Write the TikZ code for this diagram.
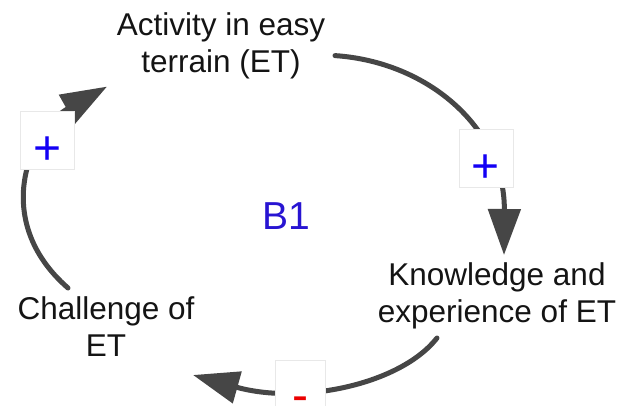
\documentclass[tikz,border=0pt]{standalone}
\usepackage{fontspec}
\setmainfont{Liberation Sans}
\usetikzlibrary{arrows.meta}
\definecolor{linkgray}{RGB}{70,70,70}
\definecolor{loopblue}{RGB}{40,20,210}
\definecolor{signblue}{RGB}{20,0,245}
\definecolor{signred}{RGB}{235,0,0}
\definecolor{boxedge}{RGB}{232,232,232}
\tikzset{
  varnode/.style={align=center, inner sep=0pt, text=black!92,
    font=\fontsize{31.5bp}{37bp}\selectfont},
  looplabel/.style={inner sep=0pt, text=loopblue,
    font=\fontsize{39bp}{44bp}\selectfont},
  link/.style={draw=linkgray, line width=5bp, line cap=round,
    -{Triangle[length=46bp,width=32bp]}, fill=none},
  signbox/.style={fill=white, draw=boxedge, line width=0.6bp,
    minimum width=54bp, minimum height=58bp, inner sep=0pt,
    text height=48bp, text depth=0bp, text=signblue,
    font=\fontsize{48bp}{50bp}\selectfont},
  minusbox/.style={signbox, minimum width=50bp, text height=44bp, text=signred}
}
\begin{document}
\begin{tikzpicture}[x=1bp,y=-1bp]
\useasboundingbox (0,0) rectangle (622,405);
\clip (0,0) rectangle (622,405);
\fill[white] (0,0) rectangle (622,405);

\node[varnode] (act) at (221,45.6) {Activity in easy\\terrain (ET)};
\node[varnode] (know) at (497,296) {Knowledge and\\experience of ET};
\node[varnode] (chal) at (106,327) {Challenge of\\ET};
\node[looplabel] (b1) at (286.5,216) {B1};

\draw[link] ([shift={(114,10)}]act.center)
  .. controls (430,62) and (505,130) ..
  node[pos=0.7, signbox, fill=white] (s1) {+}
  ([shift={(7,-41)}]know.center);

\draw[link] ([shift={(-60,42)}]know.center)
  .. controls (400,385) and (300,405) ..
  node[pos=0.65, minusbox, fill=white] (s2) {-}
  ([shift={(87,48)}]chal.center);

\draw[link] ([shift={(-38,-39)}]chal.center)
  .. controls (-10,220) and (30,130) ..
  node[pos=0.68, signbox, fill=white] (s3) {+}
  ([shift={(-114,41)}]act.center);
\end{tikzpicture}
\end{document}
